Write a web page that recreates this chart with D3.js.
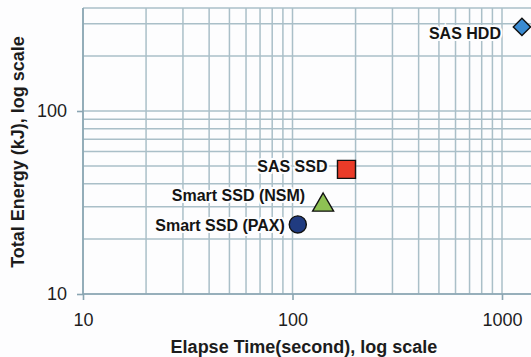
<!DOCTYPE html>
<html>
<head>
<meta charset="utf-8">
<script src="https://cdn.jsdelivr.net/npm/d3@7"></script>
<style>
  html, body { margin: 0; padding: 0; background: #fdfdfe; }
  svg { display: block; font-family: "Liberation Sans", Arial, sans-serif; }
</style>
</head>
<body>
<div id="chart"></div>
<script>
// ---- data ----
var devices = ['SAS HDD', 'SAS SSD', 'Smart SSD (NSM)', 'Smart SSD (PAX)'];
var elapseTime = [1245, 181, 140, 106];      // seconds
var totalEnergy = [288, 48, 30.6, 24];       // kJ
var xTickLabels = [10, 100, 1000];
var yTickLabels = [10, 100];

// ---- style ----
var shapes = [d3.symbolSquare, d3.symbolSquare, d3.symbolTriangle, d3.symbolCircle];
var rotations = [45, 0, 0, 0];
var sizes = [150, 324, 190, 230];
var fills = ['#3a8bd2', '#ea3b28', '#8ec153', '#203b80'];
var labelDx = [-21, -19, -18, -13];
var labelDy = [6, -3, -10, 1];

var width = 531, height = 357;
var plotLeft = 83, plotTop = 8, plotBottom = 294;

var svg = d3.select('#chart').append('svg')
  .attr('width', width)
  .attr('height', height);

var x = d3.scaleLog()
  .domain([10, 1000])
  .range([plotLeft, 502]);

var y = d3.scaleLog()
  .domain([10, 100])
  .range([plotBottom, 111]);

var xMax = x.invert(width), yMax = y.invert(plotTop);

// grid values: 1..9 multiples of each decade inside the plot
var xGrid = [], yGrid = [];
[10, 100, 1000].forEach(function(d){
  for(var k = 1; k <= 9; k++){
    if(d*k <= xMax) xGrid.push(d*k);
    if(d*k < yMax) yGrid.push(d*k);
  }
});

var grid = svg.append('g')
  .attr('stroke', '#aabfc8')
  .attr('stroke-width', 1.5);

grid.selectAll('line.v').data(xGrid).enter().append('line')
  .attr('class', 'v')
  .attr('x1', function(d){ return x(d); })
  .attr('x2', function(d){ return x(d); })
  .attr('y1', plotTop)
  .attr('y2', plotBottom);

grid.selectAll('line.h').data(yGrid).enter().append('line')
  .attr('class', 'h')
  .attr('y1', function(d){ return y(d); })
  .attr('y2', function(d){ return y(d); })
  .attr('x1', plotLeft)
  .attr('x2', width);

// top border
grid.append('line')
  .attr('x1', plotLeft).attr('x2', width)
  .attr('y1', plotTop).attr('y2', plotTop);

// axes
var xAxis = d3.axisBottom(x)
  .tickValues(xTickLabels)
  .tickFormat(d3.format('d'))
  .tickSize(6)
  .tickPadding(13);

var yAxis = d3.axisLeft(y)
  .tickValues(yTickLabels)
  .tickFormat(d3.format('d'))
  .tickSize(6)
  .tickPadding(10);

var gx = svg.append('g')
  .attr('transform', 'translate(0,' + plotBottom + ')')
  .call(xAxis);
gx.select('.domain').attr('d', 'M' + plotLeft + ',0H' + width);

var gy = svg.append('g')
  .attr('transform', 'translate(' + plotLeft + ',0)')
  .call(yAxis);
gy.select('.domain').attr('d', 'M0,' + plotTop + 'V' + plotBottom);

svg.selectAll('.domain, .tick line')
  .attr('stroke', '#8aa5b2')
  .attr('stroke-width', 1.6);

svg.selectAll('.tick text')
  .style('font-size', '18px')
  .attr('fill', '#1e1e1e');

// axis titles
svg.append('text')
  .attr('x', 304)
  .attr('y', 353)
  .attr('text-anchor', 'middle')
  .style('font-size', '18px')
  .style('font-weight', 'bold')
  .attr('fill', '#1c1c1c')
  .text('Elapse Time(second), log scale');

svg.append('text')
  .attr('transform', 'translate(24,152) rotate(-90)')
  .attr('text-anchor', 'middle')
  .style('font-size', '18px')
  .style('font-weight', 'bold')
  .attr('fill', '#1c1c1c')
  .text('Total Energy (kJ), log scale');

// points
var pts = svg.append('g');

pts.selectAll('path').data(devices).enter().append('path')
  .attr('transform', function(d, i){
    return 'translate(' + x(elapseTime[i]) + ',' + y(totalEnergy[i]) + ') rotate(' + rotations[i] + ')';
  })
  .attr('d', function(d, i){
    return d3.symbol().type(shapes[i]).size(sizes[i])();
  })
  .attr('fill', function(d, i){ return fills[i]; })
  .attr('stroke', '#111')
  .attr('stroke-width', 1.4);

pts.selectAll('text').data(devices).enter().append('text')
  .attr('x', function(d, i){ return x(elapseTime[i]) + labelDx[i]; })
  .attr('y', function(d, i){ return y(totalEnergy[i]) + labelDy[i]; })
  .attr('dy', '0.35em')
  .attr('text-anchor', 'end')
  .style('font-size', '16px')
  .style('font-weight', 'bold')
  .attr('fill', '#141414')
  .attr('stroke', '#fdfdfe')
  .attr('stroke-width', 4)
  .attr('paint-order', 'stroke')
  .text(function(d){ return d; });
</script>
</body>
</html>
